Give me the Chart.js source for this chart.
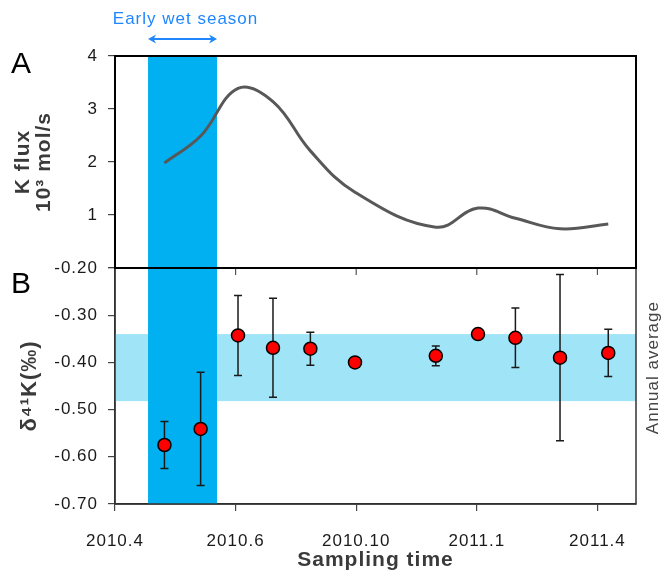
<!DOCTYPE html>
<html><head><meta charset="utf-8">
<script src="https://cdn.jsdelivr.net/npm/chart.js@4/dist/chart.umd.min.js"></script>
<style>html,body{margin:0;padding:0;background:#fff}#wrap{width:662px;height:583px;position:relative}</style>
</head><body><div id="wrap"><canvas id="c" width="662" height="583"></canvas></div>
<script>
// ---- data ----
const xTickPositions = [0, 1, 2, 3, 4];
const xTickLabels = ['2010.4', '2010.6', '2010.10', '2011.1', '2011.4'];
const sampleX = [0.41, 0.71, 1.02, 1.31, 1.62, 1.99, 2.66, 3.01, 3.32, 3.69, 4.09];
const fluxValues = [1.98, 2.49, 3.39, 3.14, 2.21, 1.43, 0.77, 1.13, 0.94, 0.74, 0.83];
const delta41K = [-0.575, -0.541, -0.343, -0.369, -0.371, -0.400, -0.386, -0.340, -0.348, -0.390, -0.380];
const delta41KErr = [0.050, 0.120, 0.085, 0.105, 0.035, 0, 0.021, 0, 0.063, 0.176, 0.050];
const fluxTicks = [0, 1, 2, 3, 4];
const deltaTicks = [-0.7, -0.6, -0.5, -0.4, -0.3, -0.2];
const wetSeasonRange = [0.274, 0.846];
const annualAverageRange = [-0.482, -0.340];

Chart.defaults.font.family = "'Liberation Sans', Arial, sans-serif";
Chart.defaults.color = '#1a1a1a';

const spacing = {
  id: 'spacing',
  beforeLayout(c) { c.ctx.letterSpacing = '1px'; },
  beforeDraw(c) { c.ctx.letterSpacing = '1px'; }
};

const decor = {
  id: 'decor',
  beforeDatasetsDraw(chart) {
    const {ctx, chartArea: a, scales: {x, yB}} = chart;
    ctx.save();
    const t = yB.getPixelForValue(annualAverageRange[1]);
    const b = yB.getPixelForValue(annualAverageRange[0]);
    ctx.fillStyle = '#a0e4f8';
    ctx.fillRect(a.left, t, a.right - a.left, b - t);
    const l = x.getPixelForValue(wetSeasonRange[0]);
    const r = x.getPixelForValue(wetSeasonRange[1]);
    ctx.fillStyle = '#00b0f0';
    ctx.fillRect(l, a.top, r - l, a.bottom - a.top);
    ctx.strokeStyle = '#1a1a1a';
    ctx.lineWidth = 1.5;
    sampleX.forEach((xv, i) => {
      const e = delta41KErr[i];
      if (!e) return;
      const px = x.getPixelForValue(xv);
      const y1 = yB.getPixelForValue(delta41K[i] + e);
      const y2 = yB.getPixelForValue(delta41K[i] - e);
      ctx.beginPath();
      ctx.moveTo(px, y1); ctx.lineTo(px, y2);
      ctx.moveTo(px - 4, y1); ctx.lineTo(px + 4, y1);
      ctx.moveTo(px - 4, y2); ctx.lineTo(px + 4, y2);
      ctx.stroke();
    });
    ctx.restore();
  },
  afterDraw(chart) {
    const {ctx, chartArea: a, scales: {x, yA, yB}} = chart;
    ctx.save();
    ctx.letterSpacing = '1px';
    // panel B frame
    ctx.strokeStyle = '#333';
    ctx.lineWidth = 1.5;
    ctx.beginPath();
    ctx.moveTo(a.left, yB.top); ctx.lineTo(a.left, a.bottom); ctx.lineTo(a.right, a.bottom); ctx.lineTo(a.right, yB.top);
    ctx.stroke();
    // inner top ticks of panel B
    ctx.strokeStyle = '#555';
    ctx.lineWidth = 1.2;
    xTickPositions.slice(1).forEach(v => {
      const px = x.getPixelForValue(v);
      ctx.beginPath(); ctx.moveTo(px, yB.top); ctx.lineTo(px, yB.top + 7); ctx.stroke();
    });
    // panel A frame
    ctx.strokeStyle = '#000';
    ctx.lineWidth = 2;
    ctx.strokeRect(a.left, yA.top, a.right - a.left, yA.bottom - yA.top);
    // panel letters
    ctx.fillStyle = '#000';
    ctx.font = "30px 'Liberation Sans', Arial, sans-serif";
    ctx.textAlign = 'left';
    ctx.textBaseline = 'alphabetic';
    ctx.fillText('A', 11, yA.top + 17);
    ctx.fillText('B', 11, yB.top + 25);
    // early wet season
    const l = x.getPixelForValue(wetSeasonRange[0]);
    const r = x.getPixelForValue(wetSeasonRange[1]);
    const blue = '#1e86ff';
    ctx.fillStyle = blue;
    ctx.font = "17px 'Liberation Sans', Arial, sans-serif";
    ctx.textAlign = 'center';
    ctx.textBaseline = 'middle';
    ctx.fillText('Early wet season', (l + r) / 2 + 3, 19);
    ctx.strokeStyle = blue;
    ctx.lineWidth = 2;
    const ay = 39;
    ctx.beginPath();
    ctx.moveTo(l + 3, ay); ctx.lineTo(r - 3, ay);
    ctx.stroke();
    ctx.beginPath();
    ctx.moveTo(l, ay); ctx.lineTo(l + 8, ay - 4.5); ctx.lineTo(l + 5.5, ay); ctx.lineTo(l + 8, ay + 4.5); ctx.closePath();
    ctx.moveTo(r, ay); ctx.lineTo(r - 8, ay - 4.5); ctx.lineTo(r - 5.5, ay); ctx.lineTo(r - 8, ay + 4.5); ctx.closePath();
    ctx.fill();
    // annual average label
    const mid = (yB.getPixelForValue(annualAverageRange[0]) + yB.getPixelForValue(annualAverageRange[1])) / 2;
    ctx.translate(653, mid);
    ctx.rotate(-Math.PI / 2);
    ctx.fillStyle = '#444';
    ctx.font = "17px 'Liberation Sans', Arial, sans-serif";
    ctx.fillText('Annual average', 0, 0);
    ctx.restore();
  }
};

new Chart(document.getElementById('c'), {
  type: 'scatter',
  data: {
    datasets: [
      {
        type: 'line', label: 'K flux', xAxisID: 'x', yAxisID: 'yA',
        data: sampleX.map((xv, i) => ({x: xv, y: fluxValues[i]})),
        borderColor: '#585858', borderWidth: 3, tension: 0.4, pointRadius: 0, fill: false
      },
      {
        type: 'scatter', label: 'δ41K', xAxisID: 'x', yAxisID: 'yB',
        data: sampleX.map((xv, i) => ({x: xv, y: delta41K[i]})),
        pointRadius: 6.5, pointBackgroundColor: '#ff0000', pointBorderColor: '#000', pointBorderWidth: 1.5
      }
    ]
  },
  options: {
    responsive: false,
    animation: false,
    layout: {padding: {left: 0, right: 26, top: 56, bottom: 0}},
    plugins: {legend: {display: false}, tooltip: {enabled: false}},
    scales: {
      x: {
        type: 'linear', position: 'bottom', min: 0, max: 4.32,
        afterBuildTicks: s => { s.ticks = xTickPositions.map(v => ({value: v})); },
        afterFit: s => { s.height = 79; },
        ticks: {
          callback: v => { const i = xTickPositions.indexOf(v); return i >= 0 ? xTickLabels[i] : ''; },
          autoSkip: false, maxRotation: 0, padding: 20, font: {size: 17}, color: '#1a1a1a'
        },
        grid: {drawOnChartArea: false, tickLength: 7, color: '#444', lineWidth: 1.2},
        border: {display: true, color: '#222', width: 1.5},
        title: {display: true, text: 'Sampling time', font: {size: 21, weight: 'bold'}, color: '#3a3a3a', padding: {top: 0, bottom: 10}}
      },
      yB: {
        type: 'linear', position: 'left', stack: 'panels', stackWeight: 236, min: -0.7, max: -0.2,
        afterBuildTicks: s => { s.ticks = deltaTicks.map(v => ({value: v})); },
        afterFit: s => { s.width = 115; },
        ticks: {callback: v => v.toFixed(2), padding: 10, font: {size: 17}, color: '#1a1a1a'},
        grid: {drawOnChartArea: false, tickLength: 7, color: '#444', lineWidth: 1.2},
        border: {display: true, color: '#333', width: 1.5},
        title: {display: true, text: 'δ⁴¹K(‰)', font: {size: 22, weight: 'bold', lineHeight: 1.2}, color: '#3a3a3a', padding: {top: 17}}
      },
      yA: {
        type: 'linear', position: 'left', stack: 'panels', stackWeight: 212, min: 0, max: 4,
        afterBuildTicks: s => { s.ticks = fluxTicks.map(v => ({value: v})); },
        afterFit: s => { s.width = 115; },
        ticks: {callback: v => (v === 0 ? '' : String(v)), padding: 10, font: {size: 17}, color: '#1a1a1a'},
        grid: {drawOnChartArea: false, tickLength: 7, color: '#444', lineWidth: 1.2},
        border: {display: true, color: '#000', width: 2},
        title: {display: true, text: ['K flux', '10³ mol/s'], font: {size: 21, weight: 'bold', lineHeight: 1.0}, color: '#3a3a3a', padding: {top: 12.5}}
      }
    }
  },
  plugins: [spacing, decor]
});
</script>
</body></html>
